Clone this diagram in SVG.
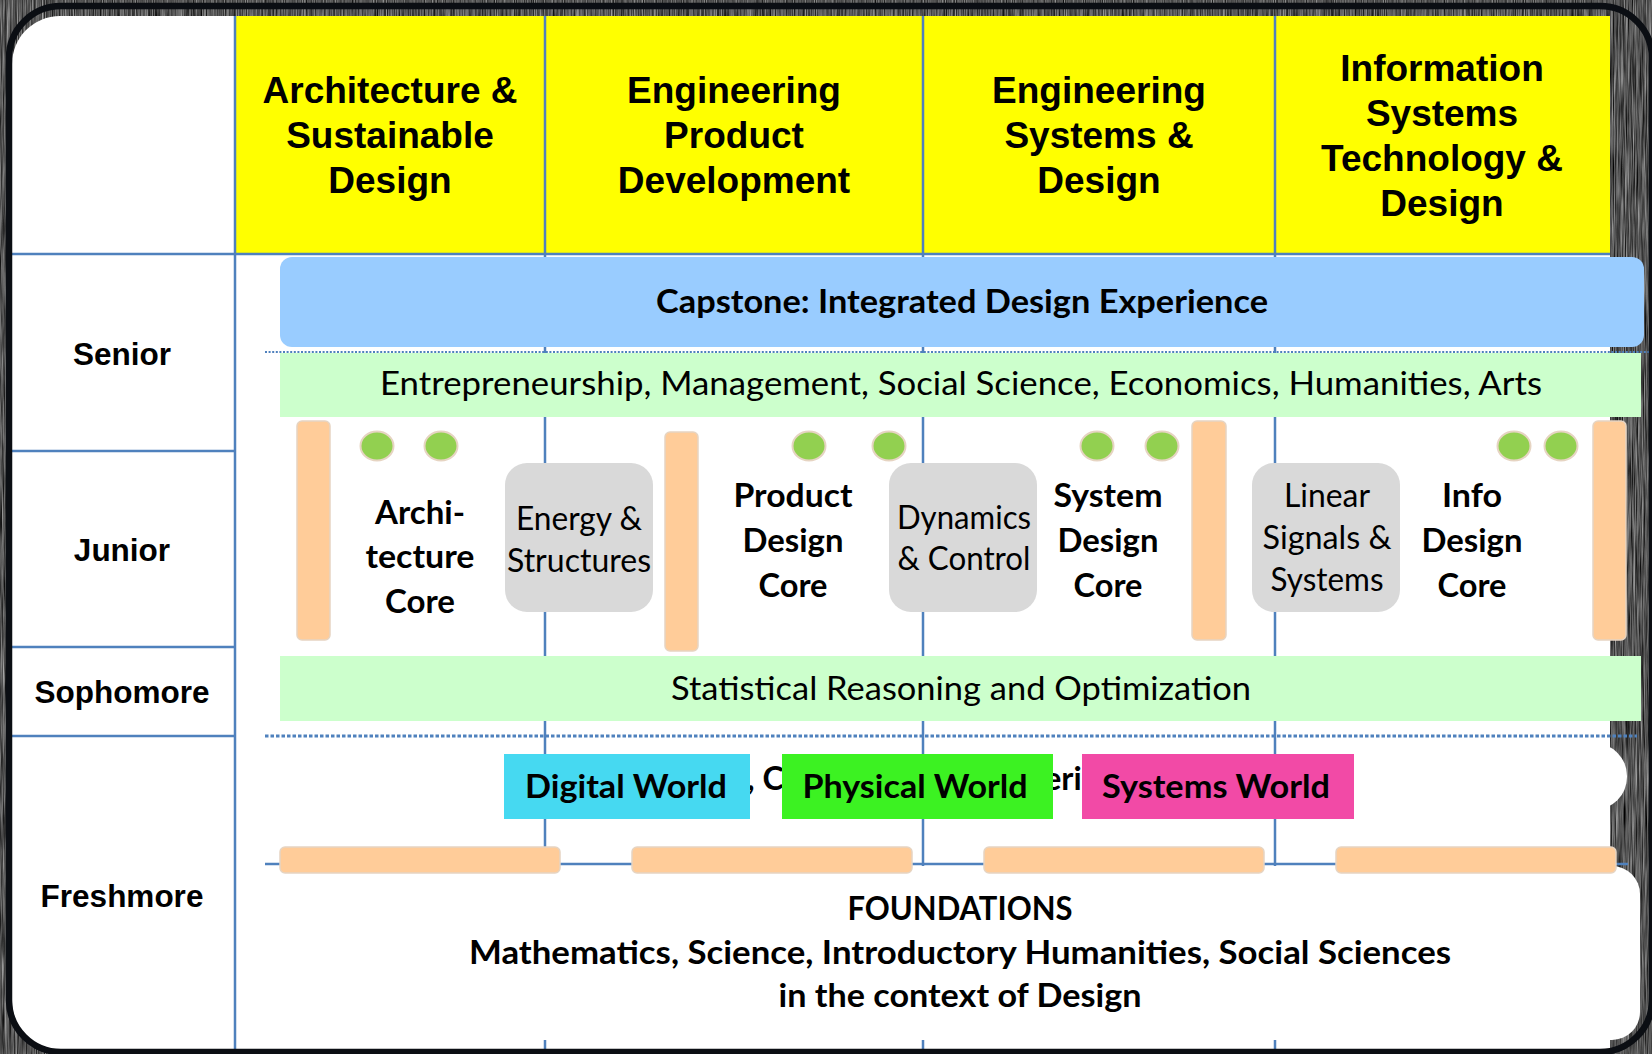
<svg xmlns="http://www.w3.org/2000/svg" width="1652" height="1054" viewBox="0 0 1652 1054">
  <defs>
    <style>
      .hdr { font-family: "Liberation Sans", Arial, sans-serif; font-weight: bold; font-size: 37px; text-anchor: middle; fill: #000; }
      .row { font-family: "Liberation Sans", Arial, sans-serif; font-weight: bold; font-size: 31.5px; text-anchor: middle; fill: #000; }
      .cal { font-family: Lato, "Open Sans", sans-serif; font-size: 32px; text-anchor: middle; fill: #000; }
      .bold { font-weight: bold; }
      .frag { font-family: Lato, "Open Sans", sans-serif; font-size: 32.5px; font-weight: bold; fill: #000; }
      .yellow { fill: #FFFF00; }
      .grid { stroke: #4F81BD; stroke-width: 2.5; fill: none; }
      .band { fill: #CCFFCC; }
      .core { fill: #D9D9D9; }
      .bar { fill: #FFCC99; stroke: #E6D4C2; stroke-width: 1.5; }
      .dot { fill: #92D050; stroke: #E6D4C2; stroke-width: 2; }
      .dotted-thin { stroke: #4F81BD; stroke-width: 2; stroke-dasharray: 2 1.6; fill: none; }
      .dotted-thick { stroke: #4F81BD; stroke-width: 3; stroke-dasharray: 3.5 2; fill: none; }
    </style>
    <filter id="grain" x="0" y="0" width="1" height="1" color-interpolation-filters="sRGB">
      <feTurbulence type="fractalNoise" baseFrequency="0.9 0.02" numOctaves="3" seed="7" result="n"/>
      <feColorMatrix in="n" type="matrix" values="0.85 0 0 0 -0.1  0.85 0 0 0 -0.1  0.85 0 0 0 -0.1  0 0 0 0 1"/>
    </filter>
  </defs>

  <!-- textured backdrop -->
  <rect x="0" y="0" width="1652" height="1054" fill="#444444" filter="url(#grain)"/>

  <!-- white slide area with rounded left corners -->
  <path d="M 60 16 H 1610 V 1050 H 60 A 48 48 0 0 1 12 1002 V 64 A 48 48 0 0 1 60 16 Z" fill="#FFFFFF"/>

  <!-- pillar headers -->
  <g id="pillar-asd">
    <rect class="yellow" x="235" y="16" width="310" height="238"/>
    <text class="hdr"><tspan x="390" y="103">Architecture &amp;</tspan><tspan x="390" y="148">Sustainable</tspan><tspan x="390" y="193">Design</tspan></text>
  </g>
  <g id="pillar-epd">
    <rect class="yellow" x="545" y="16" width="378" height="238"/>
    <text class="hdr"><tspan x="734" y="103">Engineering</tspan><tspan x="734" y="148">Product</tspan><tspan x="734" y="193">Development</tspan></text>
  </g>
  <g id="pillar-esd">
    <rect class="yellow" x="923" y="16" width="352" height="238"/>
    <text class="hdr"><tspan x="1099" y="103">Engineering</tspan><tspan x="1099" y="148">Systems &amp;</tspan><tspan x="1099" y="193">Design</tspan></text>
  </g>
  <g id="pillar-istd">
    <rect class="yellow" x="1275" y="16" width="335" height="238"/>
    <text class="hdr"><tspan x="1442" y="81">Information</tspan><tspan x="1442" y="126">Systems</tspan><tspan x="1442" y="171">Technology &amp;</tspan><tspan x="1442" y="216">Design</tspan></text>
  </g>

  <!-- white band behind the three worlds -->
  <g id="worlds-band">
    <rect x="265" y="743" width="1362" height="67" rx="33" fill="#FFFFFF"/>
  </g>

  <!-- table rules and pillar dividers -->
  <g id="connectors">
    <line class="grid" x1="235" y1="16" x2="235" y2="1050"/>
    <line class="grid" x1="12" y1="254" x2="1610" y2="254"/>
    <line class="grid" x1="12" y1="451" x2="235" y2="451"/>
    <line class="grid" x1="12" y1="647" x2="235" y2="647"/>
    <line class="grid" x1="12" y1="736" x2="235" y2="736"/>
    <line class="grid" x1="545" y1="16" x2="545" y2="1050"/>
    <line class="grid" x1="923" y1="16" x2="923" y2="1050"/>
    <line class="grid" x1="1275" y1="16" x2="1275" y2="1050"/>
    <line class="dotted-thin" x1="265" y1="352" x2="1652" y2="352"/>
    <line class="dotted-thick" x1="265" y1="736" x2="1637" y2="736"/>
    <line class="grid" x1="265" y1="864" x2="1628" y2="864"/>
  </g>

  <!-- year labels -->
  <g id="year-senior"><text class="row" x="122" y="365">Senior</text></g>
  <g id="year-junior"><text class="row" x="122" y="561">Junior</text></g>
  <g id="year-sophomore"><text class="row" x="122" y="703">Sophomore</text></g>
  <g id="year-freshmore"><text class="row" x="122" y="907">Freshmore</text></g>

  <!-- senior year -->
  <g id="capstone">
    <rect x="280" y="257" width="1364" height="90" rx="12" fill="#99CCFF"/>
    <text class="cal bold" x="962" y="313" font-size="33" textLength="612" lengthAdjust="spacingAndGlyphs">Capstone: Integrated Design Experience</text>
  </g>
  <g id="hass-band">
    <rect class="band" x="280" y="353" width="1361" height="64"/>
    <text class="cal" x="961" y="395" textLength="1162" lengthAdjust="spacingAndGlyphs">Entrepreneurship, Management, Social Science, Economics, Humanities, Arts</text>
  </g>

  <!-- junior year: pillar cores -->
  <g id="bar-v1"><rect class="bar" x="297" y="421" width="33" height="219" rx="5"/></g>
  <g id="bar-v2"><rect class="bar" x="665" y="432" width="33" height="219" rx="5"/></g>
  <g id="bar-v3"><rect class="bar" x="1192" y="421" width="34" height="219" rx="5"/></g>
  <g id="bar-v4"><rect class="bar" x="1593" y="421" width="33" height="219" rx="5"/></g>

  <g id="dots-asd"><ellipse class="dot" cx="377" cy="446" rx="16.5" ry="14.5"/><ellipse class="dot" cx="441" cy="446" rx="16.5" ry="14.5"/></g>
  <g id="dots-epd"><ellipse class="dot" cx="809" cy="446" rx="16.5" ry="14.5"/><ellipse class="dot" cx="889" cy="446" rx="16.5" ry="14.5"/></g>
  <g id="dots-esd"><ellipse class="dot" cx="1097" cy="446" rx="16.5" ry="14.5"/><ellipse class="dot" cx="1162" cy="446" rx="16.5" ry="14.5"/></g>
  <g id="dots-istd"><ellipse class="dot" cx="1514" cy="446" rx="16.5" ry="14.5"/><ellipse class="dot" cx="1561" cy="446" rx="16.5" ry="14.5"/></g>

  <g id="core-architecture">
    <text class="cal bold" font-size="33"><tspan x="420" y="524" textLength="90" lengthAdjust="spacingAndGlyphs">Archi-</tspan><tspan x="420" y="568" textLength="109" lengthAdjust="spacingAndGlyphs">tecture</tspan><tspan x="420" y="613" textLength="70" lengthAdjust="spacingAndGlyphs">Core</tspan></text>
  </g>
  <g id="energy-structures">
    <rect class="core" x="505" y="463" width="148" height="149" rx="22"/>
    <text class="cal" font-size="31"><tspan x="579" y="530" textLength="126" lengthAdjust="spacingAndGlyphs">Energy &amp;</tspan><tspan x="579" y="572" textLength="144" lengthAdjust="spacingAndGlyphs">Structures</tspan></text>
  </g>
  <g id="core-product">
    <text class="cal bold" font-size="33"><tspan x="793" y="507" textLength="119" lengthAdjust="spacingAndGlyphs">Product</tspan><tspan x="793" y="552" textLength="101" lengthAdjust="spacingAndGlyphs">Design</tspan><tspan x="793" y="597" textLength="69" lengthAdjust="spacingAndGlyphs">Core</tspan></text>
  </g>
  <g id="dynamics-control">
    <rect class="core" x="889" y="463" width="148" height="149" rx="22"/>
    <text class="cal" font-size="31"><tspan x="964" y="529" textLength="134" lengthAdjust="spacingAndGlyphs">Dynamics</tspan><tspan x="964" y="570" textLength="133" lengthAdjust="spacingAndGlyphs">&amp; Control</tspan></text>
  </g>
  <g id="core-system">
    <text class="cal bold" font-size="33"><tspan x="1108" y="507" textLength="109" lengthAdjust="spacingAndGlyphs">System</tspan><tspan x="1108" y="552" textLength="101" lengthAdjust="spacingAndGlyphs">Design</tspan><tspan x="1108" y="597" textLength="69" lengthAdjust="spacingAndGlyphs">Core</tspan></text>
  </g>
  <g id="linear-signals">
    <rect class="core" x="1252" y="463" width="148" height="149" rx="22"/>
    <text class="cal" font-size="31"><tspan x="1327" y="507" textLength="86" lengthAdjust="spacingAndGlyphs">Linear</tspan><tspan x="1327" y="549" textLength="129" lengthAdjust="spacingAndGlyphs">Signals &amp;</tspan><tspan x="1327" y="591" textLength="113" lengthAdjust="spacingAndGlyphs">Systems</tspan></text>
  </g>
  <g id="core-info">
    <text class="cal bold" font-size="33"><tspan x="1472" y="507" textLength="60" lengthAdjust="spacingAndGlyphs">Info</tspan><tspan x="1472" y="552" textLength="101" lengthAdjust="spacingAndGlyphs">Design</tspan><tspan x="1472" y="597" textLength="69" lengthAdjust="spacingAndGlyphs">Core</tspan></text>
  </g>

  <!-- sophomore year -->
  <g id="stats-band">
    <rect class="band" x="280" y="656" width="1361" height="65"/>
    <text class="cal" x="961" y="700" textLength="580" lengthAdjust="spacingAndGlyphs">Statistical Reasoning and Optimization</text>
  </g>

  <!-- freshmore: worlds -->
  <g id="worlds-text">
    <text class="frag" x="747" y="790">, C</text>
    <text class="frag" x="1044" y="790">eri</text>
  </g>
  <g id="digital-world">
    <rect x="504" y="754" width="246" height="65" fill="#46D9F1"/>
    <text class="cal bold" x="626" y="798" font-size="33" textLength="202" lengthAdjust="spacingAndGlyphs">Digital World</text>
  </g>
  <g id="physical-world">
    <rect x="782" y="754" width="271" height="65" fill="#3CF222"/>
    <text class="cal bold" x="915" y="798" font-size="33" textLength="225" lengthAdjust="spacingAndGlyphs">Physical World</text>
  </g>
  <g id="systems-world">
    <rect x="1082" y="754" width="272" height="65" fill="#F24AA6"/>
    <text class="cal bold" x="1216" y="798" font-size="33" textLength="228" lengthAdjust="spacingAndGlyphs">Systems World</text>
  </g>

  <!-- freshmore: foundations panel, then the bars resting on it -->
  <g id="foundations">
    <rect x="265" y="866" width="1375" height="174" rx="28" fill="#FFFFFF"/>
    <text class="cal bold" font-size="32.5"><tspan x="960" y="920" textLength="225" lengthAdjust="spacingAndGlyphs">FOUNDATIONS</tspan><tspan x="960" y="964" textLength="982" lengthAdjust="spacingAndGlyphs">Mathematics, Science, Introductory Humanities, Social Sciences</tspan><tspan x="960" y="1007" textLength="363" lengthAdjust="spacingAndGlyphs">in the context of Design</tspan></text>
  </g>
  <g id="bar-h1"><rect class="bar" x="280" y="847" width="280" height="26" rx="5"/></g>
  <g id="bar-h2"><rect class="bar" x="632" y="847" width="280" height="26" rx="5"/></g>
  <g id="bar-h3"><rect class="bar" x="984" y="847" width="280" height="26" rx="5"/></g>
  <g id="bar-h4"><rect class="bar" x="1336" y="847" width="280" height="26" rx="5"/></g>

  <!-- outer black frame -->
  <rect x="9" y="6" width="1643" height="1046" rx="52" fill="none" stroke="#0b0e13" stroke-width="6.5"/>
</svg>
